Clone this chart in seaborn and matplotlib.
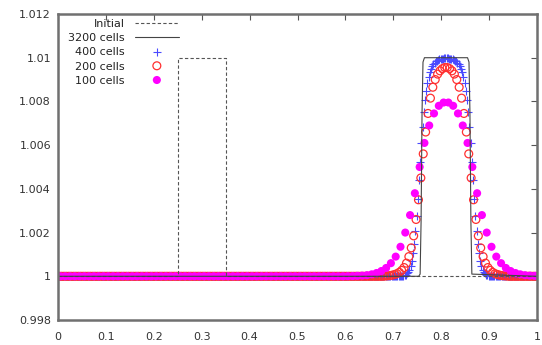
import numpy as np
import pandas as pd
import matplotlib
matplotlib.use("Agg")
import matplotlib.pyplot as plt
import seaborn as sns

# ---------------- data ----------------
# initial condition: square pulse
init_x = [0.0, 0.25, 0.25, 0.35, 0.35, 1.0]
init_y = [1.0, 1.0, 1.01, 1.01, 1.0, 1.0]

# 3200 cells: nearly square transported pulse (breakpoints of the line)
fine_x = [0.0, 0.753, 0.756, 0.758, 0.760, 0.762, 0.765, 0.855, 0.858, 0.860, 0.862, 0.864, 1.0]
fine_excess = [0.0, 0.0, 0.1, 2.5, 7.5, 9.8, 10.0, 10.0, 9.8, 7.5, 2.5, 0.1, 0.0]  # in 1e-3

# cell counts of the coarse runs
n400, n200, n100 = 400, 200, 100

# bump values above 1 (units of 1e-3), starting at given cell index; all other cells = 1
start400 = 286
excess400 = [0.01, 0.02, 0.03, 0.05, 0.08, 0.13, 0.2, 0.31, 0.48, 0.72, 1.05, 1.5, 2.05,
             2.75, 3.55, 4.4, 5.25, 6.1, 6.85, 7.5, 8.05, 8.5, 8.85, 9.13, 9.34, 9.5,
             9.62, 9.71, 9.78, 9.83, 9.87, 9.9, 9.92, 9.94, 9.95, 9.96, 9.97, 9.97,
             9.97, 9.97, 9.96, 9.95, 9.94, 9.92, 9.9, 9.87, 9.83, 9.78, 9.71, 9.62,
             9.5, 9.34, 9.13, 8.85, 8.5, 8.05, 7.5, 6.85, 6.1, 5.25, 4.4, 3.55, 2.75,
             2.05, 1.5, 1.05, 0.72, 0.48, 0.31, 0.2, 0.13, 0.08, 0.05, 0.03, 0.02, 0.01]

start200 = 136
excess200 = [0.01, 0.02, 0.03, 0.05, 0.08, 0.12, 0.18, 0.27, 0.4, 0.6, 0.9, 1.3, 1.85,
             2.6, 3.5, 4.5, 5.6, 6.6, 7.45, 8.15, 8.65, 9.0, 9.25, 9.4, 9.5, 9.55,
             9.55, 9.5, 9.4, 9.25, 9.0, 8.65, 8.15, 7.45, 6.6, 5.6, 4.5, 3.5, 2.6,
             1.85, 1.3, 0.9, 0.6, 0.4, 0.27, 0.18, 0.12, 0.08, 0.05, 0.03, 0.02, 0.01]

start100 = 60
excess100 = [0.005, 0.01, 0.02, 0.03, 0.05, 0.09, 0.15, 0.24, 0.38, 0.6, 0.9, 1.35, 2.0,
             2.8, 3.8, 5.0, 6.1, 6.9, 7.45, 7.8, 7.95,
             7.95, 7.8, 7.45, 6.9, 6.1, 5.0, 3.8, 2.8, 2.0, 1.35, 0.9, 0.6, 0.38,
             0.24, 0.15, 0.09, 0.05, 0.03, 0.02]

labels = ["Initial", "3200 cells", "400 cells", "200 cells", "100 cells"]

xticks = [0.0, 0.1, 0.2, 0.3, 0.4, 0.5, 0.6, 0.7, 0.8, 0.9, 1.0]
xticklabels = ["0", "0.1", "0.2", "0.3", "0.4", "0.5", "0.6", "0.7", "0.8", "0.9", "1"]
yticks = [0.998, 1.0, 1.002, 1.004, 1.006, 1.008, 1.010, 1.012]
yticklabels = ["0.998", "1", "1.002", "1.004", "1.006", "1.008", "1.01", "1.012"]


def profile(n, start, excess):
    x = (np.arange(n) + 0.5) / n
    y = np.ones(n)
    y[start:start + len(excess)] += np.asarray(excess) / 1000.0
    return pd.DataFrame({"x": x, "y": y})


df400 = profile(n400, start400, excess400)
df200 = profile(n200, start200, excess200)
df100 = profile(n100, start100, excess100)
df_init = pd.DataFrame({"x": init_x, "y": init_y})
df_fine = pd.DataFrame({"x": fine_x, "y": 1.0 + np.asarray(fine_excess) / 1000.0})

# ---------------- plot ----------------
sns.set_theme(style="white")
plt.rcParams["font.family"] = ["DejaVu Sans"]

fig = plt.figure(figsize=(5.42, 3.45), dpi=100)
ax = fig.add_axes([58 / 542, 1 - 320 / 345, 479 / 542, 306 / 345])

sns.lineplot(data=df_init, x="x", y="y", sort=False, estimator=None, ax=ax,
             color="#555555", linewidth=0.8, linestyle=(0, (3, 2)), label=labels[0])
sns.lineplot(data=df_fine, x="x", y="y", sort=False, estimator=None, ax=ax,
             color="#444444", linewidth=0.8, label=labels[1])
sns.scatterplot(data=df400, x="x", y="y", ax=ax, marker="+", color="#4a4aff",
                s=30, linewidth=0.8, label=labels[2])
sns.scatterplot(data=df200, x="x", y="y", ax=ax, marker="o", color="#ff3030",
                facecolor="none", edgecolor="#ff3030", s=32, linewidth=0.9,
                label=labels[3])
sns.scatterplot(data=df100, x="x", y="y", ax=ax, marker="o", color="#ff00ff",
                edgecolor="none", linewidth=0, s=34, label=labels[4])

ax.set_xlim(0, 1)
ax.set_ylim(0.998, 1.012)
ax.set_xticks(xticks)
ax.set_xticklabels(xticklabels)
ax.set_yticks(yticks)
ax.set_yticklabels(yticklabels)
ax.set_xlabel("")
ax.set_ylabel("")

for sp in ax.spines.values():
    sp.set_visible(True)
    sp.set_color("#707070")
    sp.set_linewidth(1.8)

ax.tick_params(direction="in", length=4, width=0.8, color="#555555",
               top=True, right=True, labelsize=8, labelcolor="#333333")
ax.tick_params(axis="x", pad=9)
ax.tick_params(axis="y", pad=5)

leg = ax.legend(loc="upper left", bbox_to_anchor=(68 / 542, 1 - 19 / 345),
                bbox_transform=fig.transFigure, frameon=False, markerfirst=False,
                fontsize=8, handlelength=4.0, handletextpad=0.9, labelspacing=0.38,
                borderpad=0, borderaxespad=0, scatterpoints=1, scatteryoffsets=[0.5])
for col in leg._legend_handle_box.get_children():
    col.align = "right"
for t in leg.get_texts():
    t.set_color("#222222")

fig.savefig("out.png", dpi=100)
